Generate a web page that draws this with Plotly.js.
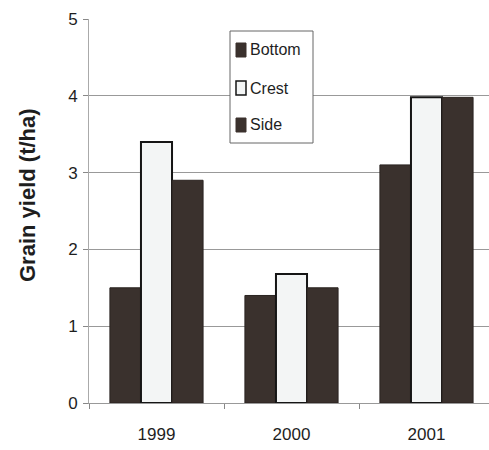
<!DOCTYPE html>
<html>
<head>
<meta charset="utf-8">
<script src="https://cdn.plot.ly/plotly-3.0.1.min.js"></script>
<style>html,body{margin:0;padding:0;background:#fff;}#chart{width:489px;height:450px;}</style>
</head>
<body>
<div id="chart"></div>
<script>
var years = ['1999', '2000', '2001'];
var seriesNames = ['Bottom', 'Crest', 'Side'];
var bottomYield = [1.5, 1.4, 3.1];
var crestYield = [3.4, 1.68, 3.98];
var sideYield = [2.9, 1.5, 3.98];
var yTicks = [0, 1, 2, 3, 4, 5];

var dark = '#3a312d';
var light = '#f3f5f5';
var fills = [dark, light, dark];
var edges = ['#2a2320', '#151515', '#2a2320'];
var edgeW = [1, 2, 1];
var values = [bottomYield, crestYield, sideYield];
var FONT = 'Liberation Sans, Arial, sans-serif';

var traces = seriesNames.map(function (n, i) {
  return {type: 'bar', name: n, x: years, y: values[i], showlegend: false,
    marker: {color: fills[i], line: {color: edges[i], width: edgeW[i]}}};
});

// plot area in pixels: left 89, right 489, top 19, bottom 403
var L = 89, R = 489, T = 19, B = 403;
function px(x) { return (x - L) / (R - L); }
function py(y) { return (B - y) / (B - T); }

var shapes = [
  {type: 'rect', xref: 'paper', yref: 'paper', x0: px(230), x1: px(313), y0: py(143), y1: py(31),
   fillcolor: '#ffffff', line: {color: '#666', width: 1}, layer: 'above'}
];
var annotations = [];
var itemY = [50, 88, 125];
seriesNames.forEach(function (n, i) {
  shapes.push({type: 'rect', xref: 'paper', yref: 'paper',
    x0: px(236), x1: px(246), y0: py(itemY[i] + 7), y1: py(itemY[i] - 7),
    fillcolor: fills[i], line: {color: i === 1 ? '#151515' : dark, width: i === 1 ? 1.5 : 1}, layer: 'above'});
  annotations.push({xref: 'paper', yref: 'paper', x: px(248), y: py(itemY[i]),
    xanchor: 'left', yanchor: 'middle', text: n, showarrow: false,
    font: {family: FONT, size: 16, color: '#1e1e1e'}});
});
annotations.push({xref: 'paper', yref: 'paper', x: px(27), y: py(195),
  xanchor: 'center', yanchor: 'middle', textangle: -90, showarrow: false,
  text: 'Grain yield (t/ha)',
  font: {family: FONT, size: 22, weight: 'bold', color: '#1e1e1e'}});

var layout = {
  width: 489, height: 450,
  margin: {l: L, r: 489 - R, t: T, b: 450 - B, pad: 0},
  paper_bgcolor: '#ffffff', plot_bgcolor: '#ffffff',
  font: {family: FONT, size: 17, color: '#1e1e1e'},
  barmode: 'group', bargap: 0.31, bargroupgap: 0,
  showlegend: false,
  xaxis: {type: 'category', range: [-0.5, 2.463], tickson: 'boundaries',
    ticks: 'outside', ticklen: 5, tickcolor: '#888', showline: true,
    linecolor: '#999', linewidth: 1, showgrid: false, ticklabelstandoff: 16,
    tickfont: {size: 17}},
  yaxis: {range: [0, 5], tickvals: yTicks, ticks: 'outside', ticklen: 5,
    tickcolor: '#888', showline: true, linecolor: '#aaa', linewidth: 1,
    showgrid: true, gridcolor: '#999', gridwidth: 1, zeroline: false,
    ticklabelstandoff: 2, tickfont: {size: 17}},
  shapes: shapes,
  annotations: annotations
};

Plotly.newPlot('chart', traces, layout, {staticPlot: true, displayModeBar: false});
</script>
</body>
</html>
